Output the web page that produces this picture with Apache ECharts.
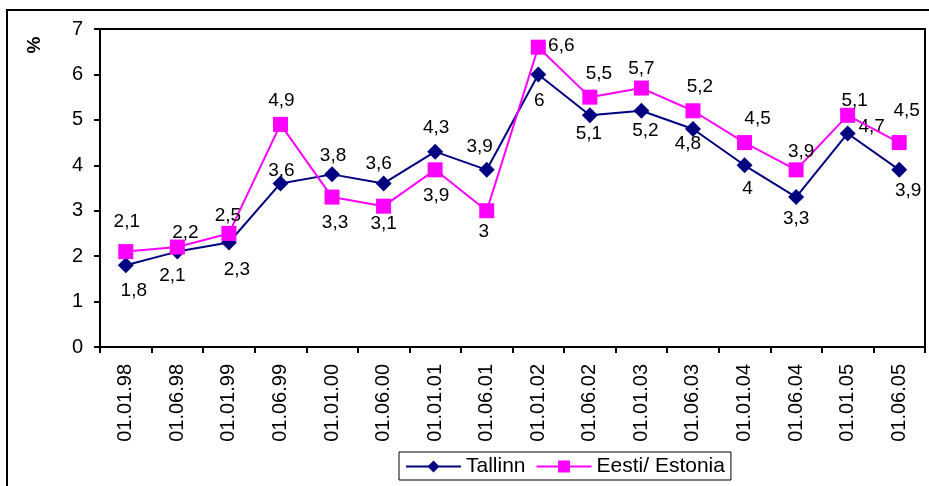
<!DOCTYPE html>
<html>
<head>
<meta charset="utf-8">
<script src="https://cdn.jsdelivr.net/npm/echarts@6/dist/echarts.min.js"></script>
<style>
html,body{margin:0;padding:0;background:#fff;}
#c{width:929px;height:486px;}
</style>
</head>
<body>
<div id="c"></div>
<script>
var categories = ['01.01.98','01.06.98','01.01.99','01.06.99','01.01.00','01.06.00','01.01.01','01.06.01','01.01.02','01.06.02','01.01.03','01.06.03','01.01.04','01.06.04','01.01.05','01.06.05'];
var tallinn = [1.8,2.1,2.3,3.6,3.8,3.6,4.3,3.9,6,5.1,5.2,4.8,4,3.3,4.7,3.9];
var estonia = [2.1,2.2,2.5,4.9,3.3,3.1,3.9,3,6.6,5.5,5.7,5.2,4.5,3.9,5.1,4.5];
var yTicks = [0,1,2,3,4,5,6,7];

// label placement (style only)
var tallinnLabelOffset = [[8,26],[-5,24],[8,27],[1,-13],[1,-19],[-5,-20],[1,-24],[-7,-23],[1,26],[-1,18],[4,19.5],[-5,15],[3,23],[0,22],[24,-7],[9,20.5]];
var estoniaLabelOffset = [[1,-30],[8,-14],[-1,-18],[1,-24],[3,26],[0,17.5],[1,26],[-3,21],[23,-1],[9,-23.5],[0,-19.5],[7,-24],[13,-24],[5,-18],[7,-15],[7.5,-32]];

var FONT = 'Liberation Sans, Arial, sans-serif';
function fmt(v){ return String(v).replace('.', ','); }
function buildData(vals, offs){
  return vals.map(function(v,i){
    return {value: v, label: {offset: offs[i]}};
  });
}

var chart = echarts.init(document.getElementById('c'), null, {renderer:'canvas'});
chart.setOption({
  backgroundColor: '#fff',
  animation: false,
  grid: {left:100, right:4, top:29, bottom:139, show:true, borderColor:'#000', borderWidth:2, backgroundColor:'transparent'},
  graphic: [
    {type:'rect', shape:{x:7, y:10, width:960, height:520}, style:{fill:'none', stroke:'#000', lineWidth:2}, silent:true},
    {type:'text', x:35, y:45, rotation:Math.PI/2, style:{text:'%', font:'bold 19px ' + FONT, fill:'#000', align:'center', verticalAlign:'middle'}}
  ],
  legend: {
    left: 399, top: 452,
    orient: 'horizontal',
    padding: [4,6,3,6],
    borderColor: '#000', borderWidth: 1,
    itemWidth: 55, itemHeight: 15, itemGap: 10,
    textStyle: {fontFamily: FONT, fontSize: 21, color:'#000'},
    data: ['Tallinn','Eesti/ Estonia']
  },
  xAxis: {
    type: 'category',
    data: categories,
    boundaryGap: true,
    axisLine: {show:true, lineStyle:{color:'#000', width:2}},
    axisTick: {show:true, alignWithLabel:false, length:6, lineStyle:{color:'#000', width:2}},
    axisLabel: {rotate:90, margin:17, fontFamily:FONT, fontSize:20, color:'#000', interval:0},
    splitLine: {show:false}
  },
  yAxis: {
    type: 'value',
    min: yTicks[0], max: yTicks[yTicks.length-1], interval: 1,
    axisLine: {show:true, lineStyle:{color:'#000', width:2}},
    axisTick: {show:true, length:6, lineStyle:{color:'#000', width:2}},
    axisLabel: {margin:17, fontFamily:FONT, fontSize:20, color:'#000'},
    splitLine: {show:false}
  },
  series: [
    {
      name: 'Tallinn',
      type: 'line',
      data: buildData(tallinn, tallinnLabelOffset),
      symbol: 'diamond',
      symbolSize: 16,
      itemStyle: {color:'#000080'},
      lineStyle: {color:'#000080', width:2},
      label: {show:true, position:'inside', formatter:function(p){return fmt(p.value);}, fontFamily:FONT, fontSize:19, color:'#000', align:'center', verticalAlign:'middle'},
      z: 2
    },
    {
      name: 'Eesti/ Estonia',
      type: 'line',
      data: buildData(estonia, estoniaLabelOffset),
      symbol: 'rect',
      symbolSize: 15,
      itemStyle: {color:'#FF00FF'},
      lineStyle: {color:'#FF00FF', width:2},
      label: {show:true, position:'inside', formatter:function(p){return fmt(p.value);}, fontFamily:FONT, fontSize:19, color:'#000', align:'center', verticalAlign:'middle'},
      z: 3
    }
  ]
});
</script>
</body>
</html>
